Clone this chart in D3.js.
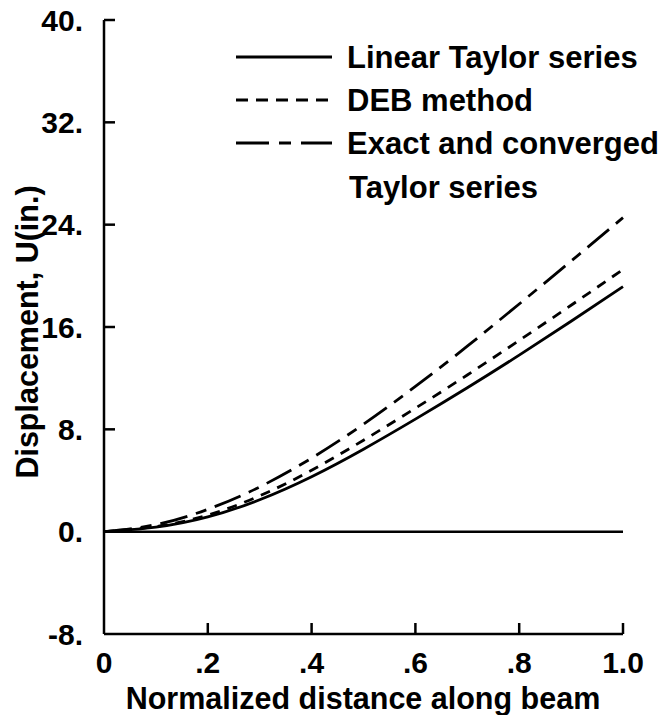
<!DOCTYPE html>
<html>
<head>
<meta charset="utf-8">
<script src="https://cdn.jsdelivr.net/npm/d3@7"></script>
<style>
  html, body { margin: 0; padding: 0; background: #fff; }
  svg { display: block; font-family: "Liberation Sans", Arial, Helvetica, sans-serif; font-weight: bold; }
  .tick-label { font-size: 30px; fill: #000; }
  .axis-title { font-size: 30.5px; fill: #000; }
  .legend-label { font-size: 31px; fill: #000; }
</style>
</head>
<body>
<div id="chart"></div>
<script>
// Data
const xs = [0, 0.1, 0.2, 0.3, 0.4, 0.5, 0.6, 0.7, 0.8, 0.9, 1.0];
const linearTaylor = [0, 0.35, 1.15, 2.5, 4.3, 6.45, 8.8, 11.25, 13.8, 16.45, 19.15];
const debMethod = [0, 0.4, 1.3, 2.8, 4.8, 7.15, 9.65, 12.25, 14.95, 17.7, 20.5];
const exactConverged = [0, 0.55, 1.75, 3.5, 5.75, 8.4, 11.35, 14.5, 17.8, 21.15, 24.55];
const xTicks = [0, 0.2, 0.4, 0.6, 0.8, 1.0];
const xTickLabels = ["0", ".2", ".4", ".6", ".8", "1.0"];
const yTicks = [-8, 0, 8, 16, 24, 32, 40];
const yTickLabels = ["-8.", "0.", "8.", "16.", "24.", "32.", "40."];
const seriesNames = ["Linear Taylor series", "DEB method", "Exact and converged"];

(function () {
  const width = 668, height = 715;
  const svg = d3.select("#chart").append("svg")
    .attr("width", width)
    .attr("height", height);

  const x = d3.scaleLinear().domain([0, 1]).range([104, 623]);
  const y = d3.scaleLinear().domain([-8, 40]).range([634, 20]);

  // dash styles per series (plot) and for the legend swatches
  const dashes = ["none", "10,8", "28,9,11,9"];
  const legendDashes = ["none", "12,8", "33,10,12,10,33"];
  const series = [linearTaylor, debMethod, exactConverged];

  // --- axes (L shaped, ticks point inward) ---------------------------------
  const axes = svg.append("g").attr("stroke", "#000").attr("stroke-width", 2.5).attr("fill", "none");
  axes.append("line")
    .attr("x1", x(0)).attr("x2", x(0))
    .attr("y1", y(40)).attr("y2", y(-8));
  axes.append("line")
    .attr("x1", x(0)).attr("x2", x(1))
    .attr("y1", y(-8)).attr("y2", y(-8));

  yTicks.forEach(v => {
    if (v === -8) return;
    axes.append("line")
      .attr("x1", x(0)).attr("x2", x(0) + 11)
      .attr("y1", y(v)).attr("y2", y(v));
  });
  xTicks.forEach(v => {
    if (v === 0) return;
    axes.append("line")
      .attr("x1", x(v)).attr("x2", x(v))
      .attr("y1", y(-8)).attr("y2", y(-8) - 11);
  });

  // zero reference line
  axes.append("line")
    .attr("x1", x(0)).attr("x2", x(1))
    .attr("y1", y(0)).attr("y2", y(0));

  // tick labels
  svg.selectAll("text.ylab")
    .data(yTicks)
    .join("text")
    .attr("class", "tick-label ylab")
    .attr("x", 83)
    .attr("y", d => y(d))
    .attr("dy", "0.36em")
    .attr("text-anchor", "end")
    .text((d, i) => yTickLabels[i]);

  svg.selectAll("text.xlab")
    .data(xTicks)
    .join("text")
    .attr("class", "tick-label xlab")
    .attr("x", d => x(d))
    .attr("y", 673)
    .attr("text-anchor", "middle")
    .text((d, i) => xTickLabels[i]);

  // axis titles
  svg.append("text")
    .attr("class", "axis-title")
    .attr("x", 363)
    .attr("y", 709)
    .attr("text-anchor", "middle")
    .text("Normalized distance along beam");

  svg.append("text")
    .attr("class", "axis-title")
    .attr("transform", "translate(38,332) rotate(-90)")
    .attr("text-anchor", "middle")
    .text("Displacement, U(in.)");

  // --- curves --------------------------------------------------------------
  const line = d3.line()
    .x(d => x(d[0]))
    .y(d => y(d[1]))
    .curve(d3.curveNatural);

  series.forEach((vals, i) => {
    svg.append("path")
      .datum(xs.map((xv, j) => [xv, vals[j]]))
      .attr("fill", "none")
      .attr("stroke", "#000")
      .attr("stroke-width", 2.8)
      .attr("stroke-dasharray", dashes[i])
      .attr("d", line);
  });

  // --- legend --------------------------------------------------------------
  const legendRows = [57, 100, 143];
  const leg = svg.append("g");
  seriesNames.forEach((name, i) => {
    leg.append("line")
      .attr("x1", 236).attr("x2", 332)
      .attr("y1", legendRows[i]).attr("y2", legendRows[i])
      .attr("stroke", "#000")
      .attr("stroke-width", 2.8)
      .attr("stroke-dasharray", legendDashes[i]);
    leg.append("text")
      .attr("class", "legend-label")
      .attr("x", 347)
      .attr("y", legendRows[i])
      .attr("dy", "0.36em")
      .text(name);
  });
  leg.append("text")
    .attr("class", "legend-label")
    .attr("x", 349)
    .attr("y", 187)
    .attr("dy", "0.36em")
    .text("Taylor series");
})();
</script>
</body>
</html>
